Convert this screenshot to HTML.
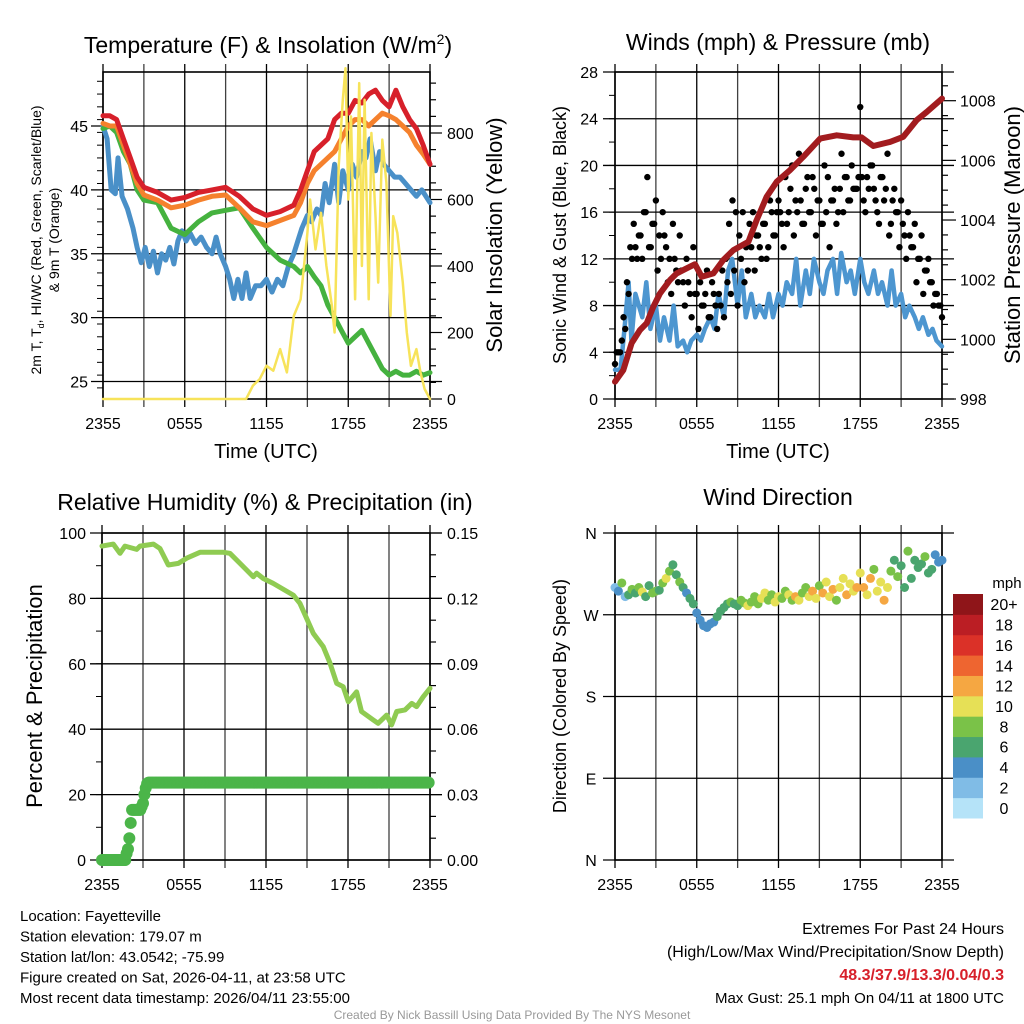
<!DOCTYPE html>
<html><head><meta charset="utf-8"><style>
body{margin:0;background:#fff}
svg{display:block;font-family:"Liberation Sans",Arial,sans-serif}
</style></head><body>
<svg id="s" width="1024" height="1024" viewBox="0 0 1024 1024"></svg>
<script>
// ---- data ----
const tTemp=[0,0.5,1,1.5,2,2.5,3,4,5,6,7,8,9,10,11,12,13,14,14.5,15,15.5,16,16.5,17,17.5,18,18.5,19,19.5,20,20.5,21,21.5,22,22.5,23,23.5,24];
const tempRed=[45.8,45.8,45.5,44,42.5,41,40.2,39.8,39.2,39.4,39.8,40,40.2,39.5,38.5,38,38.3,38.8,40,41.5,43,43.5,44,45.5,46,46,47,46.8,47.5,47.8,47,46.5,47.8,46.5,45.5,44.8,43.5,42];
const tempOrange=[45.2,45,45,43.5,42,40.5,39.6,39.2,38.6,38.8,39.2,39.5,39.6,38.6,37.5,37.2,37.6,38,39,40.5,41.5,42,42.5,43,44,45,45.5,45.5,45,45.5,46,45.8,45.5,45,44.5,43.5,42.8,42];
const tempGreen=[44.8,45,44.5,43,42,40,39.2,39,37,36.5,37.5,38.2,38.4,38.6,37,35.5,34.5,34,33.5,34,33.2,32.5,31,30,29,28,28.5,29,28,27,26,25.5,25.8,25.5,25.5,25.8,25.5,25.7];
const tBlue=[0,0.3,0.6,0.9,1.1,1.4,1.8,2.2,2.5,2.8,3.1,3.4,3.7,4,4.3,4.6,4.9,5.2,5.5,5.8,6.1,6.4,6.8,7.2,7.6,8,8.3,8.6,9,9.3,9.6,9.9,10.2,10.5,10.8,11.2,11.6,12,12.4,12.8,13.2,13.6,14,14.3,14.6,15,15.3,15.7,16,16.3,16.6,17,17.3,17.6,18,18.3,18.6,19,19.3,19.6,20,20.3,20.6,21,21.4,21.8,22.2,22.6,23,23.4,23.7,24];
const tempBlue=[45,44,40,39.7,42.5,39.5,38.5,37,35.5,34.3,35.5,34,35.2,33.5,35,34.5,35.5,34.2,36,36.8,36,36.6,35.8,36.3,35.5,35,36.3,35,34,33,31.5,33,31.5,33.5,31.5,32.5,32.5,33,32,33,32.5,34,35,36,37,38,37.5,38.5,38,40.5,39,42,39,41.5,40,42,41,43,42.5,44,41.5,43,42,41.5,41,41,40.5,40,39.5,40,39.5,39];
const tSolar=[0,10.5,11,11.5,12,12.5,13,13.5,14,14.5,15,15.2,15.6,16,16.4,16.8,17,17.3,17.6,17.8,18,18.2,18.5,18.8,19,19.2,19.5,19.7,20,20.2,20.5,20.8,21.1,21.3,21.6,22,22.3,22.6,23,23.3,23.6,24];
const solar=[0,0,40,60,100,85,150,80,250,300,500,600,450,560,400,280,200,700,900,1000,600,850,300,950,400,900,300,800,550,350,780,650,250,550,500,350,200,100,150,80,30,0];
const tPres=[0,0.61,1.22,1.83,2.33,2.81,3.3,4.04,4.53,5.26,5.87,6.36,7.22,7.95,8.69,9.79,10.4,11.13,11.87,12.84,13.82,15.05,16.27,17.49,18.1,18.96,20.18,21.16,22.14,22.88,24];
const pressure=[998.58,998.97,999.87,1000.31,1000.54,1001.09,1001.54,1001.99,1002.21,1002.38,1002.52,1002.1,1002.21,1002.66,1002.99,1003.27,1004,1004.78,1005.28,1005.67,1006.12,1006.73,1006.84,1006.77,1006.77,1006.48,1006.62,1006.79,1007.35,1007.62,1008.07];
const tWind=[0,0.4,0.7,1,1.2,1.5,2,2.3,2.6,3,3.3,3.6,4,4.3,4.6,5,5.3,5.6,6,6.3,6.6,7,7.3,7.6,8,8.3,8.6,9,9.3,9.6,10,10.3,10.6,11,11.3,11.6,12,12.3,12.6,13,13.3,13.6,14,14.3,14.6,15,15.3,15.6,16,16.3,16.6,17,17.3,17.6,18,18.3,18.6,19,19.3,19.6,20,20.3,20.6,21,21.3,21.6,22,22.3,22.6,23,23.3,23.6,24];
const windSpeed=[2.5,2.5,6,10,5,9,7,10,6,8,5,7,5,8,4.5,5,4,5,5.5,5,6,7,6,9,7,11,12,8,11,7,9,7,8,7,9,7,9,8,10,9,12,8,11,9,12,10,9,11,12,9,12.5,10,11,9,12,10,9,11,9,10,8,11,8,9,7,8,7,6,7,5.5,6,5,4.5];
const gust=[3,4,5,6,9,12,13,14,12,16,13,15,17,14,16,13,12,15,11,14,10,12,9,13,
 9,10,8,11,7,9,6,8,7,10,9,11,8,12,10,11,13,11,14,12,15,13,16,14,
 17,15,19,16,20,17,21,15,18,16,19,14,17,15,16,13,17,15,18,16,19,17,18,18,
 25,17,19,20,18,16,19,17,21,15,18,16,17,14,16,13,15,12,14,11,12,10,9,8,7];
const gust2=[4,4,7,10,13,15,12,14,16,19,13,15,11,12,14,10,9,12,10,11,8,10,7,9,
 6,8,9,7,10,8,9,11,12,15,17,16,14,16,13,15,16,14,13,15,12,17,14,16,
 16,13,15,18,14,16,17,15,19,16,18,17,15,20,19,17,18,16,21,19,17,20,18,19,
 19,16,18,20,17,15,19,18,14,17,16,13,15,12,14,13,10,12,9,11,10,8,9,8];
const windDir=[300,296,305,290,292,298,294,300,295,290,302,294,296,297,305,310,318,325,314,306,300,294,288,282,
 272,264,258,256,260,262,268,274,278,282,284,282,280,286,283,280,284,290,282,288,294,286,292,284,
 290,288,296,292,286,290,286,294,300,290,296,288,302,294,306,290,298,286,300,310,292,304,296,300,
 316,300,292,310,320,296,306,286,300,318,330,312,324,300,340,310,330,322,326,334,316,320,336,328,330];
const dirSpeed=[3,5,8,2,7,9,6,8,10,7,6,9,8,7,9,10,8,6,7,8,6,5,7,6,
 5,4,4,5,4,5,6,7,6,7,8,6,7,9,8,10,9,8,9,11,10,8,9,10,
 11,9,8,10,9,12,10,8,9,11,12,10,9,13,11,10,12,9,11,10,13,11,10,12,
 11,13,10,12,9,11,10,13,11,8,7,9,7,6,8,7,7,6,7,8,6,7,5,4,4];
const tRH=[0,0.83,1.32,1.68,2.54,2.78,3.76,4.24,4.85,5.58,6.19,7.17,8.88,9.36,10.1,10.58,11.07,11.31,11.8,12.53,14,14.48,14.97,15.46,16.19,16.68,17.17,17.65,18.02,18.63,18.99,19.85,20.2,20.83,21.19,21.56,22.17,22.66,23.02,23.5,24];
const rh=[96,96.6,93.8,96,95,96,96.6,95.3,90.2,90.7,92.3,94.1,94.1,93.8,90.7,88.7,86.6,87.7,86.1,84.6,81,78.5,73.9,69.3,65.2,60.2,54,53,48.4,51.4,45.4,42.8,41.8,44.3,41.3,45.4,45.9,47.9,46.9,49.9,52.5];
const tPrecip=[0,0.5,1,1.5,1.7,1.8,1.9,2,2.1,2.2,2.5,2.8,3,3.1,3.2,3.3,3.4,4,6,8,10,12,14,16,18,20,22,24];
const precip=[0,0,0,0,0,0.003,0.005,0.01,0.017,0.023,0.023,0.023,0.026,0.03,0.033,0.035,0.0355,0.0355,0.0355,0.0355,0.0355,0.0355,0.0355,0.0355,0.0355,0.0355,0.0355,0.0355];
const xTicks=["2355","0555","1155","1755","2355"];
const tempTicks=[25,30,35,40,45];
const solarTicks=[0,200,400,600,800];
const windTicks=[0,4,8,12,16,20,24,28];
const presTicks=[998,1000,1002,1004,1006,1008];
const rhTicks=[0,20,40,60,80,100];
const precTicks=["0.00","0.03","0.06","0.09","0.12","0.15"];
const dirTicks=["N","E","S","W","N"];
const cbLabels=["0","2","4","6","8","10","12","14","16","18","20+"];
const cbColors=["#b5e3f8","#80bce6","#4a8fc7","#4aa56f","#7ac248","#e6e056","#f5a742","#ee6530","#db3128","#bb1e24","#8f1519"];

// ---- helpers ----
const S=document.getElementById('s');const NS="http://www.w3.org/2000/svg";
function el(tag,attrs,parent){const e=document.createElementNS(NS,tag);for(const k in attrs)e.setAttribute(k,attrs[k]);(parent||S).appendChild(e);return e;}
function lin(d0,d1,r0,r1){return v=>r0+(v-d0)*(r1-r0)/(d1-d0);}
function txt(x,y,s,size,anchor,name,extra){const e=el('text',Object.assign({x:x,y:y,'font-size':size,'text-anchor':anchor||'middle',fill:'#000'},extra||{}));e.textContent=s;return e;}
function frame(L,R,T,B,name){
  const g=el('g',{});
  for(let i=0;i<=8;i++){const x=L+(R-L)*i/8;el('line',{x1:x,x2:x,y1:T-8,y2:B+8,stroke:'#000','stroke-width':1.3,'stroke-opacity':i%2?0.75:1},g);}
  el('rect',{x:L,y:T,width:R-L,height:B-T,fill:'none',stroke:'#000','stroke-width':1.6},g);
  const xs=lin(0,24,L,R);
  xTicks.forEach((s,i)=>txt(xs(i*6),B+30,s,16,'middle','x-tick-label'));
  return g;
}
function hgrid(L,R,y,g){el('line',{x1:L-12,x2:R+12,y1:y,y2:y,stroke:'#000','stroke-width':1.3},g);}
function polyline(ts,vs,xs,ys,color,w,name){const p=ts.map((t,i)=>xs(t).toFixed(1)+','+ys(vs[i]).toFixed(1)).join(' ');const e=el('polyline',{points:p,fill:'none',stroke:color,'stroke-width':w,'stroke-linejoin':'round','stroke-linecap':'round'});return e;}
function interp(ts,vs,t){for(let i=1;i<ts.length;i++){if(t<=ts[i]){const f=(t-ts[i-1])/(ts[i]-ts[i-1]);return vs[i-1]+f*(vs[i]-vs[i-1]);}}return vs[vs.length-1];}
function rtitle(x,y,s,size,name){return txt(x,y,s,size,'middle',name,{transform:`rotate(-90 ${x} ${y})`});}

// ---- Panel 1: temperature ----
{const L=103,R=430,T=72,B=399;
 const g=frame(L,R,T,B,'temperature-panel');
 const xs=lin(0,24,L,R),ys=lin(25,45,381.5,126),ysr=lin(0,800,399,133);
 tempTicks.forEach(v=>{hgrid(L,R,ys(v),g);txt(88,ys(v)+6,String(v),16,'end','y-tick-label');});
 for(let v=0;v<=1000;v+=50){const y=ysr(v);if(y<T)break;el('line',{x1:R,x2:R+(v%200?6:12),y1:y,y2:y,stroke:'#000','stroke-width':1.2},g);}
 for(let v=23.5;v<=49.5;v+=1){const y=ys(v);if(y<T||y>B)continue;el('line',{x1:L-6,x2:L,y1:y,y2:y,stroke:'#000','stroke-width':1},g);}
 solarTicks.forEach(v=>txt(447,ysr(v)+6,String(v),16,'start','y2-tick-label'));
 polyline(tBlue,tempBlue,xs,ys,'#4a90c8',5,'dewpoint-line');
 polyline(tTemp,tempGreen,xs,ys,'#45b23f',5,'windchill-line');
 polyline(tTemp,tempOrange,xs,ys,'#f5812d',5,'temp-9m-line');
 polyline(tTemp,tempRed,xs,ys,'#d7202a',5,'temp-2m-line');
 polyline(tSolar,solar.map(v=>Math.min(v,995)),xs,ysr,'#f7e35a',2.5,'solar-line');
 txt(268,53,'Temperature (F) & Insolation (W/m',23,'middle','temperature-title').innerHTML='Temperature (F) &amp; Insolation (W/m<tspan dy="-9" font-size="14">2</tspan><tspan dy="9">)</tspan>';
 txt(266,458,'Time (UTC)',20,'middle','x-axis-title');
 rtitle(41,240,'',14,'y-axis-title').innerHTML='2m T, T<tspan font-size="9" dy="3">d</tspan><tspan dy="-3">, HI/WC (Red, Green, Scarlet/Blue)</tspan>';
 rtitle(59,240,'& 9m T (Orange)',14,'y-axis-title-line2');
 rtitle(502,235,'Solar Insolation (Yellow)',22,'y2-axis-title');
}
// ---- Panel 2: winds ----
{const L=615,R=942,T=72,B=399;
 const g=frame(L,R,T,B,'wind-panel');
 const xs=lin(0,24,L,R),ys=lin(0,28,399,72),ysr=lin(998,1008,399,100.7);
 windTicks.forEach(v=>{hgrid(L,R,ys(v),g);txt(598,ys(v)+6,String(v),16,'end','y-tick-label');});
 for(let v=998;v<=1009.1;v+=0.5){const y=ysr(v);if(y<T)break;el('line',{x1:R,x2:R+(Math.abs(v%2)<0.01?14:6),y1:y,y2:y,stroke:'#000','stroke-width':1.2},g);}
 for(let v=0;v<=28;v+=2){el('line',{x1:L-6,x2:L,y1:ys(v),y2:ys(v),stroke:'#000','stroke-width':1},g);}
 presTicks.forEach(v=>txt(960,ysr(v)+6,String(v),16,'start','y2-tick-label'));
 polyline(tWind,windSpeed,xs,ys,'#4d96d0',4.5,'sonic-wind-line');
 gust.forEach((v,i)=>{const c=el('circle',{cx:xs(i*0.25),cy:ys(v),r:3.2,fill:'#000'});
  
  });
 gust2.forEach((v,i)=>{const c=el('circle',{cx:xs(0.125+i*0.25),cy:ys(v),r:3.2,fill:'#000'});
  
  });
 polyline(tPres,pressure,xs,ysr,'#a21c1f',6,'pressure-line');
 txt(778,50,'Winds (mph) & Pressure (mb)',23,'middle','wind-title');
 txt(778,458,'Time (UTC)',20,'middle','x-axis-title');
 rtitle(566,235,'Sonic Wind & Gust (Blue, Black)',18,'y-axis-title');
 rtitle(1020,235,'Station Pressure (Maroon)',22,'y2-axis-title');
}
// ---- Panel 3: RH ----
{const L=102,R=430,T=533,B=860;
 const g=frame(L,R,T,B,'humidity-panel');
 const xs=lin(0,24,L,R),ys=lin(0,100,860,533),ysr=lin(0,0.15,860,533);
 rhTicks.forEach(v=>{hgrid(L,R,ys(v),g);txt(86,ys(v)+6,String(v),16,'end','y-tick-label');});
 for(let v=0;v<=100.1;v+=10){el('line',{x1:L-6,x2:L,y1:ys(v),y2:ys(v),stroke:'#000','stroke-width':1},g);}
 for(let v=0;v<=0.1501;v+=0.01){const y=ysr(v);el('line',{x1:R,x2:R+(Math.round(v*100)%3?6:12),y1:y,y2:y,stroke:'#000','stroke-width':1.2},g);}
 precTicks.forEach(v=>txt(447,ysr(+v)+6,v,16,'start','y2-tick-label'));
 polyline(tRH,rh,xs,ys,'#8fcb52',5,'rh-line');
 for(let t=0;t<=24;t+=0.1){const c=el('circle',{cx:xs(t),cy:ysr(interp(tPrecip,precip,t)),r:6,fill:'#4bb549'});
  
  }
 txt(265,510,'Relative Humidity (%) & Precipitation (in)',23,'middle','humidity-title');
 rtitle(42,696,'Percent & Precipitation',22,'y-axis-title');
}
// ---- Panel 4: wind direction ----
{const L=615,R=942,T=533,B=860;
 const g=frame(L,R,T,B,'direction-panel');
 const xs=lin(0,24,L,R),ys=lin(0,360,860,533);
 dirTicks.forEach((s,i)=>{hgrid(L,R,ys(i*90),g);txt(591,ys(i*90)+6,s,16,'middle','y-tick-label');});
 const colorFor=v=>cbColors[Math.min(10,Math.max(0,Math.floor(v/2)))];
 windDir.forEach((d,i)=>{const c=el('circle',{cx:xs(i*0.25),cy:ys(d),r:4.5,fill:colorFor(dirSpeed[i])});
  
  });
 txt(778,505,'Wind Direction',23,'middle','direction-title');
 rtitle(566,696,'Direction (Colored By Speed)',18,'y-axis-title');
 const cb=el('g',{});
 const cbT=594,cbB=818,h=(cbB-cbT)/11;
 cbColors.forEach((c,i)=>{el('rect',{x:953,y:cbB-(i+1)*h,width:30,height:h+0.5,fill:c},cb);txt(1004,cbB-(i+0.5)*h+6,cbLabels[i],16,'middle','colorbar-label');});
 txt(1007,588,'mph',15,'middle','colorbar-title');
}
// ---- footer text ----
const info=["Location: Fayetteville","Station elevation: 179.07 m","Station lat/lon: 43.0542; -75.99","Figure created on Sat, 2026-04-11, at 23:58 UTC","Most recent data timestamp: 2026/04/11 23:55:00"];
info.forEach((s,i)=>txt(20,921+i*20.5,s,15,'start','station-info'));
txt(1004,934,'Extremes For Past 24 Hours',16,'end','extremes-title');
txt(1004,957,'(High/Low/Max Wind/Precipitation/Snow Depth)',16,'end','extremes-legend');
txt(1004,980,'48.3/37.9/13.3/0.04/0.3',16,'end','extremes-values',{fill:'#d7202a','font-weight':'bold'});
txt(1004,1003,'Max Gust: 25.1 mph On 04/11 at 1800 UTC',15,'end','max-gust');
txt(512,1019,'Created By Nick Bassill Using Data Provided By The NYS Mesonet',12,'middle','credit',{fill:'#999'});
</script>
</body></html>
